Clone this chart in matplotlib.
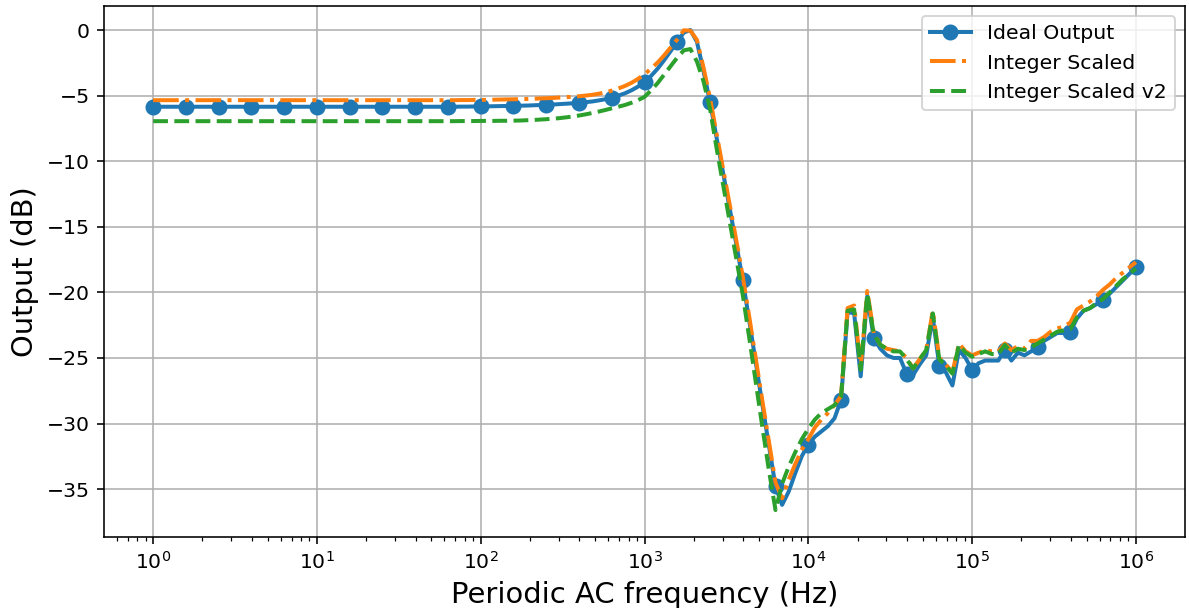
import numpy as np
import matplotlib
matplotlib.use("Agg")
import matplotlib.pyplot as plt

# Sweep grid: 25 points per decade from 1 Hz to 1 MHz
freq = np.logspace(0, 6, 151)

ideal_db = [
    -5.85, -5.85, -5.85, -5.85, -5.85, -5.85, -5.85, -5.85, -5.85, -5.85,
    -5.85, -5.85, -5.85, -5.85, -5.85, -5.85, -5.85, -5.85, -5.85, -5.85,
    -5.85, -5.85, -5.85, -5.85, -5.85, -5.85, -5.85, -5.85, -5.85, -5.85,
    -5.85, -5.85, -5.85, -5.85, -5.85, -5.85, -5.85, -5.85, -5.85, -5.85,
    -5.85, -5.85, -5.85, -5.85, -5.85, -5.85, -5.85, -5.84, -5.84, -5.83,
    -5.83, -5.82, -5.81, -5.80, -5.79, -5.78, -5.77, -5.76, -5.74, -5.72,
    -5.70, -5.68, -5.65, -5.62, -5.59, -5.55, -5.50, -5.45, -5.37, -5.28,
    -5.15, -5.00, -4.83, -4.60, -4.32, -3.97, -3.50, -2.95, -2.30, -1.60,
    -0.90, -0.20, 0.00, -0.90, -3.10, -5.50, -8.20, -10.90, -13.60, -16.30,
    -19.07, -22.20, -25.40, -28.60, -31.70, -34.80, -36.20, -35.20, -33.80, -32.50,
    -31.60, -31.00, -30.60, -30.20, -29.60, -28.20, -21.50, -21.60, -26.40, -20.30,
    -23.50, -24.30, -24.80, -25.00, -25.00, -26.20, -26.30, -25.50, -24.80, -21.90,
    -25.60, -26.10, -27.10, -24.40, -25.00, -25.90, -25.40, -25.20, -25.20, -25.20,
    -24.40, -25.20, -24.60, -24.80, -24.50, -24.15, -23.70, -23.40, -23.10, -23.10,
    -23.00, -22.00, -21.40, -21.20, -20.90, -20.60, -20.10, -19.60, -19.10, -18.60,
    -18.10,
]

int_scaled_db = [
    -5.35, -5.35, -5.35, -5.35, -5.35, -5.35, -5.35, -5.35, -5.35, -5.35,
    -5.35, -5.35, -5.35, -5.35, -5.35, -5.35, -5.35, -5.35, -5.35, -5.35,
    -5.35, -5.35, -5.35, -5.35, -5.35, -5.35, -5.35, -5.35, -5.35, -5.35,
    -5.35, -5.35, -5.35, -5.35, -5.35, -5.35, -5.35, -5.35, -5.35, -5.35,
    -5.35, -5.35, -5.35, -5.35, -5.35, -5.35, -5.35, -5.34, -5.34, -5.33,
    -5.33, -5.32, -5.31, -5.30, -5.29, -5.28, -5.27, -5.26, -5.24, -5.22,
    -5.20, -5.18, -5.15, -5.12, -5.09, -5.05, -5.00, -4.94, -4.86, -4.76,
    -4.62, -4.46, -4.27, -4.03, -3.73, -3.37, -2.95, -2.48, -1.93, -1.33,
    -0.72, -0.02, -0.05, -0.75, -2.85, -5.20, -7.90, -10.60, -13.30, -16.00,
    -18.80, -21.90, -25.10, -28.30, -31.40, -34.50, -35.70, -34.30, -33.10, -32.00,
    -31.20, -30.30, -29.70, -29.20, -28.60, -27.90, -21.20, -21.00, -25.70, -19.90,
    -23.10, -24.00, -24.30, -24.40, -24.50, -25.00, -25.80, -25.10, -24.40, -21.40,
    -25.00, -25.50, -26.10, -23.90, -24.50, -24.80, -24.60, -24.40, -24.50, -24.50,
    -23.90, -24.40, -24.10, -24.30, -23.70, -23.70, -23.40, -23.00, -22.75, -22.60,
    -22.30, -21.30, -21.00, -20.70, -20.30, -19.80, -19.40, -18.90, -18.50, -18.10,
    -17.70,
]

int_scaled_v2_db = [
    -6.95, -6.95, -6.95, -6.95, -6.95, -6.95, -6.95, -6.95, -6.95, -6.95,
    -6.95, -6.95, -6.95, -6.95, -6.95, -6.95, -6.95, -6.95, -6.95, -6.95,
    -6.95, -6.95, -6.95, -6.95, -6.95, -6.95, -6.95, -6.95, -6.95, -6.95,
    -6.95, -6.95, -6.95, -6.95, -6.95, -6.95, -6.95, -6.95, -6.95, -6.95,
    -6.95, -6.95, -6.95, -6.95, -6.95, -6.95, -6.95, -6.94, -6.94, -6.94,
    -6.93, -6.93, -6.93, -6.92, -6.92, -6.91, -6.90, -6.88, -6.86, -6.83,
    -6.80, -6.76, -6.72, -6.66, -6.60, -6.52, -6.43, -6.33, -6.22, -6.10,
    -5.97, -5.85, -5.72, -5.55, -5.35, -5.10, -4.60, -4.05, -3.40, -2.75,
    -2.10, -1.55, -1.45, -2.40, -3.90, -6.00, -9.00, -11.80, -14.60, -17.40,
    -20.20, -23.50, -26.90, -30.30, -33.60, -36.60, -34.60, -33.30, -32.20, -31.20,
    -30.40, -29.70, -29.20, -28.90, -28.60, -28.00, -21.40, -21.30, -25.90, -20.10,
    -23.20, -24.00, -24.30, -24.50, -24.50, -25.10, -25.80, -25.10, -24.40, -21.60,
    -25.10, -25.60, -26.20, -24.00, -24.60, -24.90, -24.70, -24.50, -24.70, -24.70,
    -24.00, -24.60, -24.30, -24.40, -24.20, -23.90, -23.60, -23.30, -23.00, -22.90,
    -22.80, -21.90, -21.40, -21.20, -20.80, -20.50, -20.00, -19.50, -19.00, -18.60,
    -18.20,
]

fig = plt.figure(figsize=(1189 / 144, 608 / 144), dpi=144)
ax = fig.add_axes([104 / 1189, 1 - 537 / 608, (1185 - 104) / 1189, (537 - 6) / 608])

ax.semilogx(freq, ideal_db, "o-", markevery=5, lw=2.0, markersize=7,
            label="Ideal Output")
ax.semilogx(freq, int_scaled_db, "-.", lw=2.0, label="Integer Scaled")
ax.semilogx(freq, int_scaled_v2_db, "--", lw=2.0, label="Integer Scaled v2")

ax.set_ylim(-38.65, 1.83)
ax.set_xlabel("Periodic AC frequency (Hz)", fontsize=14.5)
ax.set_ylabel("Output (dB)", fontsize=14.5)
ax.tick_params(labelsize=10.2)
ax.grid(True)
ax.legend(loc="upper right", fontsize=10.2)

fig.savefig("out.png", dpi=144)
